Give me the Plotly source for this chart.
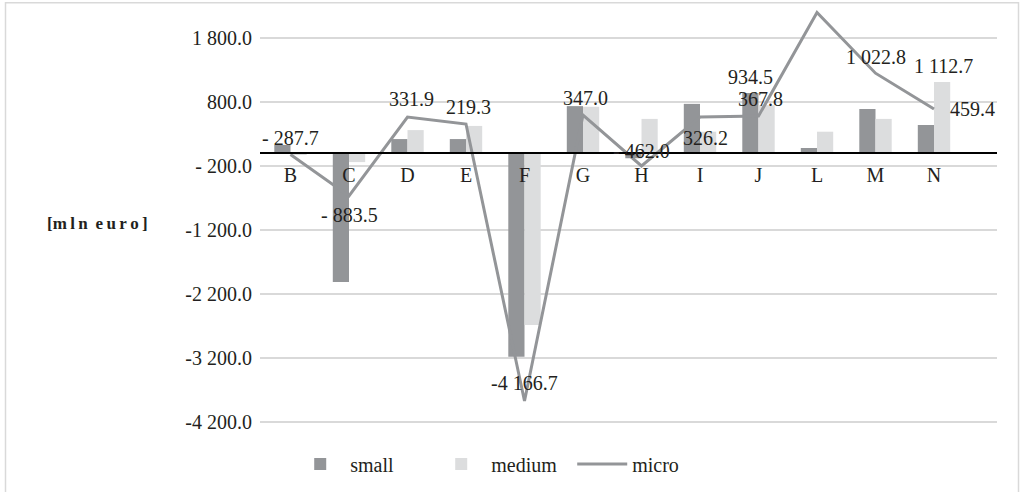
import plotly.graph_objects as go

categories = ["B", "C", "D", "E", "F", "G", "H", "I", "J", "L", "M", "N"]
small = [128, -2015, 220, 220, -3185, 735, -80, 770, 940, 80, 690, 440]
medium = [-20, -140, 360, 425, -2685, 725, 535, 335, 750, 335, 535, 1110]
micro = [-20, -670, 565, 455, -3875, 595, -200, 565, 580, 2200, 1250, 690]

label_cats = ["B", "C", "D", "E", "F", "G", "H", "I", "J", "J", "M", "N", "N"]
label_texts = ["- 287.7", "- 883.5", "331.9", "219.3", "-4 166.7", "347.0", "- 462.0",
               "326.2", "934.5", "367.8", "1 022.8", "1 112.7", "459.4"]
label_y = [238, -966, 847, 722, -3597, 862, 34, 238, 1190, 847, 1503, 1362, 690]
label_dx = [0, 0, 4, 2, 0, 2, 0, 5, -8, 2, 0, 9, 14]
label_anchor = ["center"] * 12 + ["left"]

tick_vals = [1800, 800, -200, -1200, -2200, -3200, -4200]
tick_text = ["1 800.0", "800.0", "- 200.0", "-1 200.0", "-2 200.0", "-3 200.0", "-4 200.0"]

FONT = "'Liberation Serif', 'Times New Roman', 'DejaVu Serif', serif"
Y_MIN, Y_MAX = -4250, 2300

fig = go.Figure()
fig.add_trace(go.Bar(name="small", x=categories, y=small, marker=dict(color="#939598", line=dict(width=0))))
fig.add_trace(go.Bar(name="medium", x=categories, y=medium, marker=dict(color="#DCDDDE", line=dict(width=0))))
fig.add_trace(go.Scatter(name="micro", x=categories, y=micro, mode="lines",
                         line=dict(color="#939598", width=3)))

for c, t, yv, dx, anc in zip(label_cats, label_texts, label_y, label_dx, label_anchor):
    fig.add_annotation(x=c, y=yv, text=t, showarrow=False, xanchor=anc, yanchor="middle",
                       xshift=dx, font=dict(family=FONT, size=20, color="#231F20"))

fig.add_annotation(xref="paper", yref="paper", x=-0.292, y=(425.2 - 224) / 419,
                   text="[m\u2009l\u2009n\u2009 e\u2009u\u2009r\u2009o\u2009]", showarrow=False,
                   xanchor="left", yanchor="middle",
                   font=dict(family=FONT, size=17, color="#231F20", weight="bold"))

fig.add_shape(type="rect", xref="paper", yref="paper",
              x0=(5.5 - 260) / 737, x1=(1018.5 - 260) / 737,
              y0=-0.5, y1=(425.2 - 3) / 419,
              line=dict(color="#D9D9D9", width=1.5), layer="below")

zero_pos = (0 - Y_MIN) / (Y_MAX - Y_MIN)

fig.update_layout(
    width=1022, height=492,
    margin=dict(l=260, r=25, t=6, b=67),
    paper_bgcolor="white", plot_bgcolor="white",
    barmode="group", bargap=0.446, bargroupgap=0,
    font=dict(family=FONT, size=19, color="#231F20"),
    showlegend=True,
    legend=dict(orientation="h", x=0.041, xanchor="left", y=-0.093, yanchor="middle",
                font=dict(family=FONT, size=20, color="#231F20"), traceorder="normal",
                itemwidth=50, entrywidth=76, entrywidthmode="pixels",
                bgcolor="rgba(0,0,0,0)"),
    xaxis=dict(type="category", anchor="free", position=zero_pos,
               showline=True, linecolor="#000000", linewidth=2, showgrid=False,
               ticks="", ticklabelstandoff=4, tickfont=dict(family=FONT, size=20, color="#231F20")),
    yaxis=dict(range=[Y_MIN, Y_MAX], tickvals=tick_vals, ticktext=tick_text,
               showgrid=True, gridcolor="#D9D9D9", gridwidth=1.5, zeroline=False,
               showline=False, ticks="", ticklabelstandoff=7,
               tickfont=dict(family=FONT, size=20, color="#231F20")),
)

fig.write_html("out.html")
